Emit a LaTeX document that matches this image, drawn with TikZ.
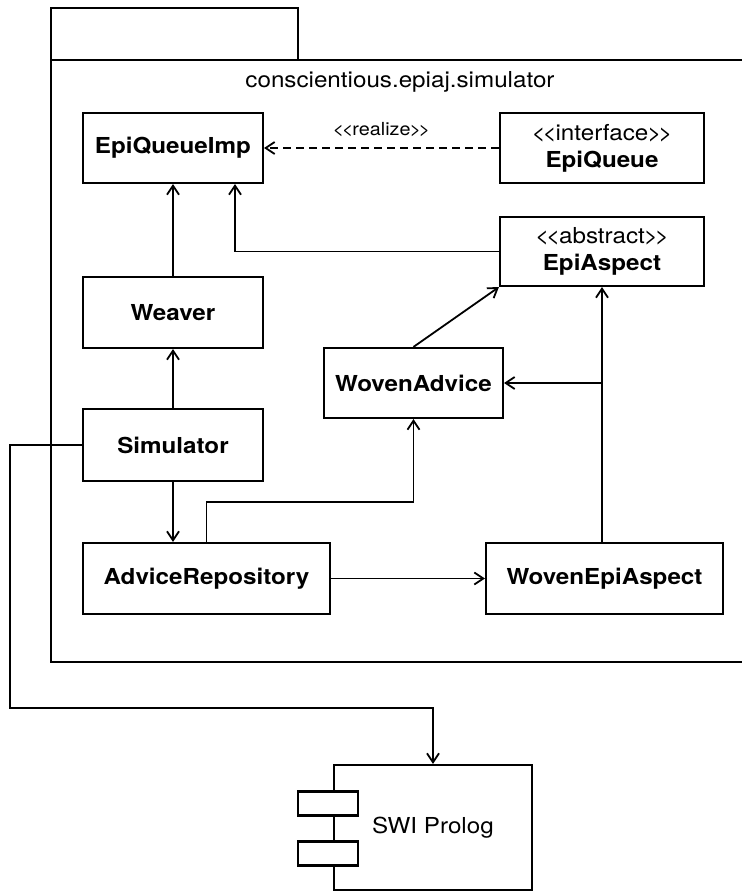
\documentclass[tikz,border=0pt]{standalone}
\usepackage{fontspec}
\setmainfont{TeX Gyre Heros}[FakeStretch=1.1]
\usetikzlibrary{arrows.meta,calc}
% stereotype with tight plain angle brackets (kerns keep them from merging into guillemets)
\newcommand{\stereotype}[1]{<\kern-0.14em<\kern-0.05em#1\kern-0.05em>\kern-0.14em>}
\begin{document}
\begin{tikzpicture}[x=1pt,y=-1pt,
  cls/.style={draw,line width=2.2pt,inner sep=0pt,align=center,
    font=\fontsize{22}{27}\selectfont\bfseries},
  stereo/.style={cls,font=\fontsize{22}{27}\selectfont},
  link/.style={line width=1.8pt,-{Straight Barb[length=9pt,width=12pt,line width=1.8pt]}},
  pkg/.style={line width=2.8pt},
  port/.style={draw,fill=white,line width=2.2pt,minimum width=60pt,minimum height=24pt,inner sep=0pt}]
\useasboundingbox (0,0) rectangle (742,895);

% package frame with its tab
\draw[pkg] (51,8) rectangle (298,60);
\draw[pkg] (51,60) rectangle (770,662);
\node[font=\fontsize{22}{27}\selectfont] (pkgname) at (400,82) {conscientious.epiaj.simulator};

% classes
\node[cls,minimum width=180pt,minimum height=70pt] (imp) at (173,148) {EpiQueueImp};
\node[stereo,minimum width=204pt,minimum height=70pt] (queue) at (602,148)
  {\stereotype{interface}\\\textbf{EpiQueue}};
\node[stereo,minimum width=204pt,minimum height=69pt] (aspect) at (602,251.5)
  {\stereotype{abstract}\\\textbf{EpiAspect}};
\node[cls,minimum width=180pt,minimum height=71pt] (weaver) at (173,312.5) {Weaver};
\node[cls,minimum width=179pt,minimum height=70pt] (advice) at (413.5,383) {WovenAdvice};
\node[cls,minimum width=180pt,minimum height=72pt] (sim) at (173,445) {Simulator};
\node[cls,minimum width=247pt,minimum height=71pt] (repo) at (206.5,578.5) {AdviceRepository};
\node[cls,minimum width=237pt,minimum height=71pt] (woven) at (604.5,578.5) {WovenEpiAspect};

% component
\node[draw,line width=2.2pt,minimum width=198pt,minimum height=125pt,inner sep=0pt,
  font=\fontsize{22}{27}\selectfont] (swi) at (433,827.5) {SWI Prolog};
\node[port] (portA) at (328,803.5) {};
\node[port] (portB) at (328,853.5) {};

% realization
\draw[link,dashed,dash pattern=on 8pt off 5pt] (queue.west) -- (imp.east)
  node[midway,above=7pt,font=\fontsize{18}{20}\selectfont] (realize) {\stereotype{realize}};

% associations
\draw[link] (weaver.north) -- (imp.south);
\draw[link] (aspect.west) -| ($(imp.south)+(62,0)$);
\draw[link] (sim.north) -- (weaver.south);
\draw[link] (advice.north) -- (aspect.south west);
\draw[link] (sim.south) -- (sim.south |- repo.north);
\draw[link] (repo.north) -- ++(0,-40) -| (advice.south);
\draw[link] (repo.east) -- (woven.west);
\draw[link] (aspect.south |- woven.north) -- (aspect.south);
\coordinate (fork) at (aspect.south |- advice.east);
\draw[link] (fork) -- (advice.east);
\coordinate (bend) at (10,708);
\draw[link] (sim.west) -| (bend) -| (swi.north);
\end{tikzpicture}
\end{document}
